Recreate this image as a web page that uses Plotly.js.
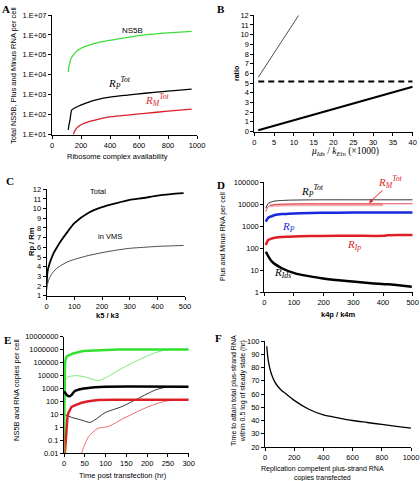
<!DOCTYPE html>
<html><head><meta charset="utf-8">
<script src="https://cdn.plot.ly/plotly-3.0.1.min.js"></script>
<style>html,body{margin:0;padding:0;background:#fff}#p{width:420px;height:481px}</style>
</head><body><div id="p"></div>
<script>
// ---- Panel A ----
const aNs5bX = [112,118,125,131,145,160,181,220,260,297,350,411,500,641,800,963];
const aNs5bY = [14000,28000,45000,66000,95000,126000,174000,250000,320000,380000,460000,550000,710000,1000000,1260000,1500000];
const aRpX = [112,117,124,136,159,181,228,297,411,520,641,800,963];
const aRpY = [17,30,52,170,220,260,363,537,776,950,1175,1500,1900];
const aRmX = [147,159,181,230,297,411,520,641,800,963];
const aRmY = [10,16,25,38,52,78,95,115,148,190];
const aXTicks = [0,200,400,600,800,1000];
const aYTicks = [10,100,1000,10000,100000,1000000,10000000];
const aYLabels = ['1.E+01','1.E+02','1.E+03','1.E+04','1.E+05','1.E+06','1.E+07'];
// ---- Panel B ----
const bThinX = [1,11.2];
const bThinY = [5.6,12];
const bDashX = [1,40];
const bDashY = [5.17,5.17];
const bThickX = [1,40];
const bThickY = [0.13,4.62];
const bXTicks = [0,5,10,15,20,25,30,35,40];
const bYTicks = [0,1,2,3,4,5,6,7,8,9,10,11,12];
// ---- Panel C ----
const cX = [0,3,8,15,25,35,50,75,100,150,200,250,300,350,400,450,495];
const cTotal = [2.3,3.5,4.1,4.7,5.4,5.9,6.6,7.6,8.5,9.55,10.15,10.55,10.9,11.1,11.35,11.5,11.6];
const cVMS = [1.6,2.2,2.7,3.1,3.5,3.8,4.1,4.5,4.75,5.15,5.45,5.7,5.9,6.0,6.1,6.15,6.2];
const cXTicks = [0,100,200,300,400,500];
const cYTicks = [1,2,3,4,5,6,7,8,9,10,11,12];
// ---- Panel D ----
const dX = [5,13,25,36,60,81,120,193,300,400,500];
const dRpTot = [6500,10700,12600,13800,14500,15000,15300,15600,15600,15600,15600];
const dRmTot = [4500,7600,8900,9500,9800,10000,10200,10300,10300,10300,10300];
const dRmLightX = [20,60,120,200,300,400];
const dRmLightY = [8300,9100,9300,9400,9400,9400];
const dRp = [1600,2400,2800,3200,3500,3600,3800,4000,4100,4100,4100];
const dRipX = [5,13,25,36,60,81,120,193,300,405,415,500];
const dRip = [140,235,275,300,325,330,345,360,365,365,390,395];
const dRidsX = [5,25,59,104,150,193,250,306,360,418,497];
const dRids = [69,25,12.3,7.2,5.4,4.3,3.5,3.0,2.6,2.3,1.8];
const dXTicks = [0,100,200,300,400,500];
const dYTicks = [1,10,100,1000,10000,100000];
// ---- Panel E ----
const eGreenThickX = [0,0.5,1.2,2.4,4,6.4,10,22,46,87,130,300];
const eGreenThickY = [0.1,100,30000,87000,180000,290000,350000,510000,790000,930000,1050000,1050000];
const eGreenThinX = [2.4,6,10,26,50,65,82,95,110,139,179,219,243,260,300];
const eGreenThinY = [3300,6300,8100,9800,8100,5600,4000,5600,10000,36000,158000,575000,930000,1050000,1050000];
const eBlackThickX = [0,2.4,6.5,14,18,26,42,74,99,300];
const eBlackThickY = [575,500,316,250,316,645,912,1230,1380,1380];
const eBlackThinX = [0,18,42,62,74,99,139,179,219,243,259];
const eBlackThinY = [10,6,3.7,2.4,3.7,14,40,175,760,1230,1380];
const eRedThickX = [2,4,6,8,10,14,18,26,42,59,82,120,300];
const eRedThickY = [0.01,0.1,1,5,12,22,38,50,80,105,130,135,135];
const eRedThinX = [42,50,59,70,82,95,106,120,139,160,179,200,219,240,260,300];
const eRedThinY = [0.01,0.05,0.19,0.45,0.85,1.0,1.15,1.9,4.2,9,18,36,62,98,125,132];
const eOliveX = [0,1,2];
const eOliveY = [0.15,0.05,0.01];
const eXTicks = [0,50,100,150,200,250,300];
const eYTicks = [0.01,0.1,1,10,100,1000,10000,100000,1000000,10000000];
const eYLabels = ['0.01','0.1','1','10','100','1000','10000','100000','1000000','10000000'];
// ---- Panel F ----
const fX = [12,18,24,35,47,65,82,110,141,200,300,400,500,600,700,800,900,1000];
const fY = [96,89,84.3,78.5,74.2,69.5,66.6,63,60.3,55.2,48.5,44.2,42,40,38.5,37,35.6,34.2];
const fXTicks = [0,200,400,600,800,1000];
const fYTicks = [20,30,40,50,60,70,80,90,100];

const W = 420, H = 481;
const FONT = 'Liberation Sans, Arial, sans-serif';
const SERIF = 'Liberation Serif, Times New Roman, serif';
function xd(a,b){return [a/W,b/W];}
function yd(t,b){return [1-b/H,1-t/H];}
function px(x){return x/W;}
function py(y){return 1-y/H;}

function ax(extra){
  return Object.assign({showline:true,linecolor:'#000',linewidth:1,ticks:'outside',ticklen:3,
    tickcolor:'#000',showgrid:false,zeroline:false,tickfont:{family:FONT,size:7.5,color:'#000'},
    tickmode:'array'}, extra);
}
function tr(x,y,xa,ya,color,width,extra){
  return Object.assign({x:x,y:y,xaxis:xa,yaxis:ya,mode:'lines',type:'scatter',
    line:{color:color,width:width,shape:'spline',smoothing:0.6},hoverinfo:'skip',showlegend:false}, extra||{});
}
const GREEN = 'rgb(60,220,60)';
const RED = 'rgb(220,30,40)';
const BLUE = 'rgb(20,40,220)';

const data = [
  tr(aNs5bX,aNs5bY,'x','y',GREEN,1.3),
  tr(aRpX,aRpY,'x','y','#000',1.3),
  tr(aRmX,aRmY,'x','y',RED,1.3),
  tr(bThinX,bThinY,'x2','y2','#000',0.7),
  tr(bDashX,bDashY,'x2','y2','#000',2,{line:{color:'#000',width:2,dash:'6px,4px'}}),
  tr(bThickX,bThickY,'x2','y2','#000',2),
  tr(cX,cTotal,'x3','y3','#000',1.8),
  tr(cX,cVMS,'x3','y3','#000',0.7),
  tr(dRmLightX,dRmLightY,'x4','y4','rgb(245,175,180)',3),
  tr(dX,dRpTot,'x4','y4','#000',0.8),
  tr(dX,dRmTot,'x4','y4',RED,0.8),
  tr(dX,dRp,'x4','y4',BLUE,2.5),
  tr(dRipX,dRip,'x4','y4',RED,2.5),
  tr(dRidsX,dRids,'x4','y4','#000',2.5),
  tr(eGreenThinX,eGreenThinY,'x5','y5','rgb(90,230,90)',0.8),
  tr(eBlackThinX,eBlackThinY,'x5','y5','#000',0.8),
  tr(eRedThinX,eRedThinY,'x5','y5','rgb(235,70,70)',0.8),
  tr(eGreenThickX,eGreenThickY,'x5','y5','rgb(50,225,50)',2.5,{line:{color:'rgb(50,225,50)',width:2.5}}),
  tr(eBlackThickX,eBlackThickY,'x5','y5','#000',2.5),
  tr(eRedThickX,eRedThickY,'x5','y5',RED,2.5,{line:{color:RED,width:2.5}}),
  tr(eOliveX,eOliveY,'x5','y5','rgb(170,140,40)',2,{line:{color:'rgb(170,140,40)',width:2}}),
  tr(fX,fY,'x6','y6','#000',1.3)
];

function ann(text,x,y,o){
  return Object.assign({text:text,x:px(x),y:py(y),xref:'paper',yref:'paper',showarrow:false,
    xanchor:'center',yanchor:'middle',font:{family:FONT,size:7.5,color:'#000'}},o||{});
}
const letter = (t,x,y)=>ann('<b>'+t+'</b>',x,y,{font:{family:SERIF,size:11,color:'#000'}});
const it = {family:SERIF,size:11,color:'#000'};

const annotations = [
  letter('A',6,9), letter('B',221,9), letter('C',10,181), letter('D',221,185), letter('E',7,340), letter('F',218,338),
  // A
  ann('Total NS5B, Plus and Minus RNA per cell',13,76,{textangle:-90}),
  ann('Ribosome complex availability',117,156),
  ann('NS5B',132,30,{font:{family:FONT,size:8,color:'#000'}}),
  ann('<i>R</i><sub><i>P</i></sub><sup><i>Tot</i></sup>',119,83,{font:it}),
  ann('<i>R</i><sub><i>M</i></sub><sup><i>Tot</i></sup>',157,100,{font:{family:SERIF,size:11,color:RED}}),
  // B
  ann('<b>ratio</b>',236,74,{textangle:-90,font:{family:FONT,size:7,color:'#000'}}),
  ann('<i>μ</i><sub><i>Ids</i></sub> / <i>k</i><sub><i>Ein</i></sub> (×1000)',345,151,{font:{family:SERIF,size:9.5,color:'#000'}}),
  // C
  ann('<b>Rp / Rm</b>',31,242,{textangle:-90,font:{family:FONT,size:7.5,color:'#000'}}),
  ann('<b>k5 / k3</b>',107,315,{font:{family:FONT,size:7.5,color:'#000'}}),
  ann('Total',98,191),
  ann('in VMS',110,236),
  // D
  ann('Plus and Minus RNA per cell',223,237,{textangle:-90,font:{family:FONT,size:7,color:'#000'}}),
  ann('<b>k4p / k4m</b>',338,314,{font:{family:FONT,size:7.5,color:'#000'}}),
  ann('<i>R</i><sub><i>P</i></sub><sup><i>Tot</i></sup>',312,191,{font:it}),
  ann('<i>R</i><sub><i>M</i></sub><sup><i>Tot</i></sup>',390,182,{font:{family:SERIF,size:11,color:RED}}),
  ann('<i>R</i><sub><i>P</i></sub>',288,227,{font:{family:SERIF,size:11,color:BLUE}}),
  ann('<i>R</i><sub><i>Ip</i></sub>',354,245,{font:{family:SERIF,size:11,color:RED}}),
  ann('<i>R</i><sub><i>Ids</i></sub>',282,273,{font:it}),
  {x:px(369),y:py(203),ax:px(384),ay:py(189),xref:'paper',yref:'paper',axref:'paper',ayref:'paper',
    text:'',showarrow:true,arrowhead:2,arrowsize:0.8,arrowwidth:1,arrowcolor:RED},
  // E
  ann('NS5B and RNA copies per cell',16,390,{textangle:-90}),
  ann('Time post transfection (hr)',123,475),
  // F
  ann('Time to attain total plus-strand RNA<br>within 0.5 log of steady state (hr)',238,391,{textangle:-90,font:{family:FONT,size:7,color:'#000'}}),
  ann('Replication competent plus-strand RNA<br>copies transfected',322,473,{font:{family:FONT,size:7,color:'#000'}})
];

const layout = {
  width:W,height:H,margin:{l:0,r:0,t:0,b:0},paper_bgcolor:'#fff',plot_bgcolor:'rgba(0,0,0,0)',
  showlegend:false,font:{family:FONT,color:'#000'},
  xaxis: ax({domain:xd(52,197),range:[0,1000],tickvals:aXTicks,anchor:'y'}),
  yaxis: ax({domain:yd(15,134.5),type:'log',range:[1,7],tickvals:aYTicks,ticktext:aYLabels,anchor:'x'}),
  xaxis2: ax({domain:xd(254.3,412.7),range:[0,40],tickvals:bXTicks,anchor:'y2'}),
  yaxis2: ax({domain:yd(15.3,131.5),range:[0,12],tickvals:bYTicks,anchor:'x2'}),
  xaxis3: ax({domain:xd(46.7,185),range:[0,500],tickvals:cXTicks,anchor:'y3'}),
  yaxis3: ax({domain:yd(189.3,295.7),range:[1,12],tickvals:cYTicks,anchor:'x3'}),
  xaxis4: ax({domain:xd(264.3,412.7),range:[0,500],tickvals:dXTicks,anchor:'y4'}),
  yaxis4: ax({domain:yd(182,292.3),type:'log',range:[0,5],tickvals:dYTicks,ticktext:dYTicks.map(String),anchor:'x4'}),
  xaxis5: ax({domain:xd(64,188.7),range:[0,300],tickvals:eXTicks,anchor:'y5'}),
  yaxis5: ax({domain:yd(336.7,453.3),type:'log',range:[-2,7],tickvals:eYTicks,ticktext:eYLabels,anchor:'x5'}),
  xaxis6: ax({domain:xd(265,411),range:[0,1000],tickvals:fXTicks,anchor:'y6'}),
  yaxis6: ax({domain:yd(341,447),range:[20,100],tickvals:fYTicks,anchor:'x6'}),
  annotations:annotations
};
Plotly.newPlot('p',data,layout,{staticPlot:true,displayModeBar:false});
</script></body></html>
